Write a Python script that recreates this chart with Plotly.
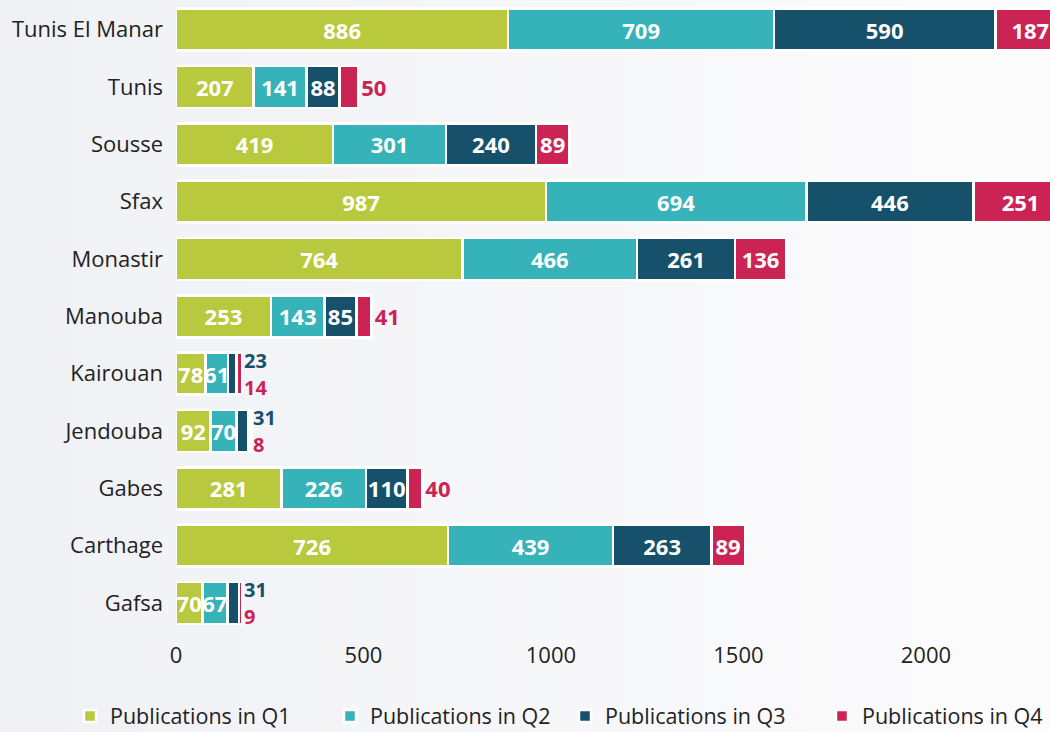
import plotly.graph_objects as go

universities = ["Tunis El Manar", "Tunis", "Sousse", "Sfax", "Monastir", "Manouba",
                "Kairouan", "Jendouba", "Gabes", "Carthage", "Gafsa"]
q1 = [886, 207, 419, 987, 764, 253, 78, 92, 281, 726, 70]
q2 = [709, 141, 301, 694, 466, 143, 61, 70, 226, 439, 67]
q3 = [590, 88, 240, 446, 261, 85, 23, 31, 110, 263, 31]
q4 = [187, 50, 89, 251, 136, 41, 14, 8, 40, 89, 9]
series_names = ["Publications in Q1", "Publications in Q2", "Publications in Q3", "Publications in Q4"]
colors = ["#b9c93d", "#36b3b8", "#17506a", "#cc2355"]
x_ticks = [0, 500, 1000, 1500, 2000]

# rows whose Q3/Q4 labels are written beside the bar, one above the other
side_rows = ["Kairouan", "Jendouba", "Gafsa"]
# rows whose Q4 label is written just after the bar
q4_outside_rows = ["Tunis", "Manouba", "Gabes"]

FONT = "Open Sans"
LEFT, WIDTH, HEIGHT, TOP, BOTTOM = 176, 1050, 732, 1, 100
plot_w = WIDTH - LEFT
plot_h = HEIGHT - TOP - BOTTOM

fig = go.Figure()
series = [q1, q2, q3, q4]
legend_ids = ["legend", "legend2", "legend3", "legend4"]
for i, (name, vals, col) in enumerate(zip(series_names, series, colors)):
    positions = []
    for u in universities:
        if i >= 2 and u in side_rows:
            positions.append("none")
        elif i == 3 and u in q4_outside_rows:
            positions.append("outside")
        else:
            positions.append("inside")
    fig.add_trace(go.Bar(
        y=universities, x=vals, name=name, orientation="h",
        legend=legend_ids[i],
        marker=dict(color=col, line=dict(color="white", width=2.5)),
        text=[str(v) for v in vals],
        textposition=positions,
        insidetextanchor="middle",
        textangle=0,
        constraintext="none",
        insidetextfont=dict(family=FONT, size=22, color="white", weight="bold"),
        outsidetextfont=dict(family=FONT, size=22, color=col, weight="bold"),
        cliponaxis=True,
    ))

annotations = []
for idx, u in enumerate(universities):
    if u in side_rows:
        total = q1[idx] + q2[idx] + q3[idx] + q4[idx]
        annotations.append(dict(x=total, y=u, xref="x", yref="y", text=str(q3[idx]),
                                showarrow=False, xanchor="left", xshift=0, yshift=13.5,
                                font=dict(family=FONT, size=20, color=colors[2], weight="bold")))
        annotations.append(dict(x=total, y=u, xref="x", yref="y", text=str(q4[idx]),
                                showarrow=False, xanchor="left", xshift=0, yshift=-13.5,
                                font=dict(family=FONT, size=20, color=colors[3], weight="bold")))

# soft left-to-right background gradient
shapes = []
n = 30
x0p, x1p = -LEFT / plot_w, 1.0
c0 = (240, 241, 245)
c1 = (252, 252, 253)
for k in range(n):
    t = k / (n - 1)
    c = tuple(int(round(c0[j] + (c1[j] - c0[j]) * t)) for j in range(3))
    shapes.append(dict(type="rect", xref="paper", yref="paper", layer="below",
                       x0=x0p + (x1p - x0p) * k / n, x1=x0p + (x1p - x0p) * (k + 1) / n + 0.002,
                       y0=-BOTTOM / plot_h, y1=1 + TOP / plot_h, line=dict(width=0),
                       fillcolor="rgb(%d,%d,%d)" % c))

# legend text starts (pixels) in the reference
legend_text_x = [110, 370, 605, 862]
legend_y = -(716 - (TOP + plot_h)) / plot_h
legends = {}
for lid, tx in zip(legend_ids, legend_text_x):
    legends[lid] = dict(orientation="h", x=(tx - 40 - LEFT) / plot_w, xanchor="left",
                        y=legend_y, yanchor="middle",
                        font=dict(family=FONT, size=21.5, color="#222222"),
                        bgcolor="rgba(0,0,0,0)", itemwidth=30)

fig.update_layout(
    barmode="stack",
    bargap=0.27,
    width=WIDTH, height=HEIGHT,
    margin=dict(l=LEFT, r=0, t=TOP, b=BOTTOM, autoexpand=False),
    paper_bgcolor="rgb(240,241,245)",
    plot_bgcolor="rgba(0,0,0,0)",
    font=dict(family=FONT, size=20, color="#222222"),
    shapes=shapes,
    annotations=annotations,
    showlegend=True,
    xaxis=dict(range=[0, 2331], tickvals=x_ticks, ticktext=[str(v) for v in x_ticks],
               showgrid=False, zeroline=False, showline=False, ticks="",
               tickfont=dict(family=FONT, size=22, color="#222222"),
               ticklabelstandoff=8),
    yaxis=dict(autorange="reversed", showgrid=False, zeroline=False, showline=False,
               ticks="", ticklabelstandoff=12,
               tickfont=dict(family=FONT, size=22, color="#222222")),
    **legends,
)

fig.write_html("out.html", config={"displayModeBar": False},
               post_script="document.body.style.margin='0';")
